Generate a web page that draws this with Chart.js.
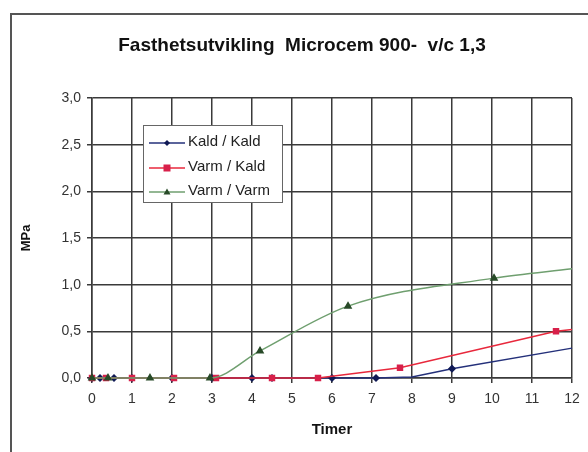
<!DOCTYPE html>
<html>
<head>
<meta charset="utf-8">
<script src="https://cdn.jsdelivr.net/npm/chart.js@4/dist/chart.umd.min.js"></script>
<style>
  body { margin: 0; background: #fff; }
  #wrap { position: relative; width: 588px; height: 452px; font-family: Arial, "Liberation Sans", sans-serif; }
  #frame { position: absolute; left: 10px; top: 13px; right: -4px; bottom: -4px; border-top: 2px solid #555; border-left: 2px solid #555; }
  #title { position: absolute; left: 0; width: 604px; top: 34px; text-align: center; font-weight: bold; font-size: 19px; color: #111; white-space: pre; }
  #legend { position: absolute; left: 143px; top: 125px; width: 138px; height: 76px; background: #fff; border: 1px solid #666; }
  .row { position: absolute; left: 4px; height: 20px; font-size: 15px; color: #222; white-space: nowrap; }
  .row svg { position: absolute; left: 0; top: 2px; }
  .row span { position: absolute; left: 40px; top: 0; }
</style>
</head>
<body>
<div id="wrap">
  <div id="frame"></div>
  <canvas id="myChart" width="588" height="452"></canvas>
  <div id="title">Fasthetsutvikling  Microcem 900-  v/c 1,3</div>
  <div id="legend"></div>
</div>
<script>
// data (timer, MPa)
const kaldKald_x = [0, 0.2, 0.55, 1, 2, 3, 4, 4.5, 6, 7.1, 8, 9, 12]
const kaldKald_y = [0, 0, 0, 0, 0, 0, 0, 0, 0, 0, 0.01, 0.1, 0.32]
const varmKald_x = [0, 0.35, 1, 2.05, 3.1, 4.5, 5.65, 7.7, 11.6, 12]
const varmKald_y = [0, 0, 0, 0, 0, 0, 0, 0.11, 0.5, 0.52]
const varmVarm_x = [0, 0.4, 1.45, 2.95, 4.2, 6.4, 10.05, 12]
const varmVarm_y = [0, 0, 0, 0, 0.29, 0.77, 1.07, 1.17]
const labels = ['Kald / Kald', 'Varm / Kald', 'Varm / Varm']
// points where the line only bends / runs off the edge, no marker drawn
const noMarker_x = [8, 12]

const pts = (xs, ys) => xs.map((x, i) => ({x: x, y: ys[i]}))

const gridCol = '#3a3a3a'

const sets = [
  {label: labels[0], data: pts(kaldKald_x, kaldKald_y), borderColor: '#24307a', pointBackgroundColor: '#101a55',
   pointBorderColor: '#101a55', pointStyle: 'rectRot', r: 3, tension: 0},
  {label: labels[1], data: pts(varmKald_x, varmKald_y), borderColor: '#e8283c', pointBackgroundColor: '#d8204a',
   pointBorderColor: '#d8204a', pointStyle: 'rect', r: 3.5, tension: 0},
  {label: labels[2], data: pts(varmVarm_x, varmVarm_y), borderColor: '#6f9f6f', pointBackgroundColor: '#284a28',
   pointBorderColor: '#284a28', pointStyle: 'triangle', r: 3.5, cubicInterpolationMode: 'monotone'}
]
sets.forEach(s => {
  const r = s.r
  s.pointRadius = c => (c.raw && noMarker_x.includes(c.raw.x)) ? 0 : r
  s.borderWidth = 1.5; s.clip = false; s.fill = false
})
// green drawn first so red/blue sit on top like the original
sets.reverse()

const ctx = document.getElementById('myChart')
let myChart = new Chart(ctx, {
  type: 'line',
  data: { datasets: sets },
  options: {
    responsive: false,
    animation: false,
    layout: { padding: { left: 19, top: 98, right: 16, bottom: 0 } },
    plugins: { legend: { display: false }, tooltip: { enabled: false } },
    scales: {
      x: {
        type: 'linear', min: 0, max: 12,
        afterFit: function (s) { s.height = 74 },
        ticks: { stepSize: 1, padding: 8, color: '#333', font: { family: 'Arial', size: 14 } },
        grid: { color: gridCol, lineWidth: 1.5, tickLength: 5, tickColor: gridCol },
        border: { color: gridCol, width: 1.5 },
        title: { display: true, text: 'Timer', color: '#111', padding: { top: 0, bottom: 13 },
                 font: { family: 'Arial', size: 15, weight: 'bold' } }
      },
      y: {
        type: 'linear', min: 0, max: 3,
        afterFit: function (s) { s.width = 73 },
        ticks: { stepSize: 0.5, padding: 6, color: '#333', font: { family: 'Arial', size: 14 },
                 callback: v => v.toFixed(1).replace('.', ',') },
        grid: { color: gridCol, lineWidth: 1.5, tickLength: 5, tickColor: gridCol },
        border: { color: gridCol, width: 1.5 },
        title: { display: true, text: 'MPa', color: '#111', padding: { top: 0, bottom: 0 },
                 font: { family: 'Arial', size: 13, weight: 'bold' } }
      }
    }
  }
})

// legend box inside the plot
const leg = document.getElementById('legend')
const order = [sets[2], sets[1], sets[0]]
order.forEach(function (s, i) {
  const row = document.createElement('div')
  row.className = 'row'
  row.style.top = (6 + i * 24.5) + 'px'
  let mk
  const c = s.pointBackgroundColor
  if (s.pointStyle == 'rectRot') mk = '<polygon points="19,6 22,9 19,12 16,9" fill="' + c + '"/>'
  else if (s.pointStyle == 'rect') mk = '<rect x="15.5" y="5.5" width="7" height="7" fill="' + c + '"/>'
  else mk = '<polygon points="19,5.5 22.5,11.5 15.5,11.5" fill="' + c + '"/>'
  row.innerHTML = '<svg width="38" height="18"><line x1="1" y1="9" x2="37" y2="9" stroke="' + s.borderColor +
    '" stroke-width="1.5"/>' + mk + '</svg><span>' + s.label + '</span>'
  leg.appendChild(row)
})
</script>
</body>
</html>
